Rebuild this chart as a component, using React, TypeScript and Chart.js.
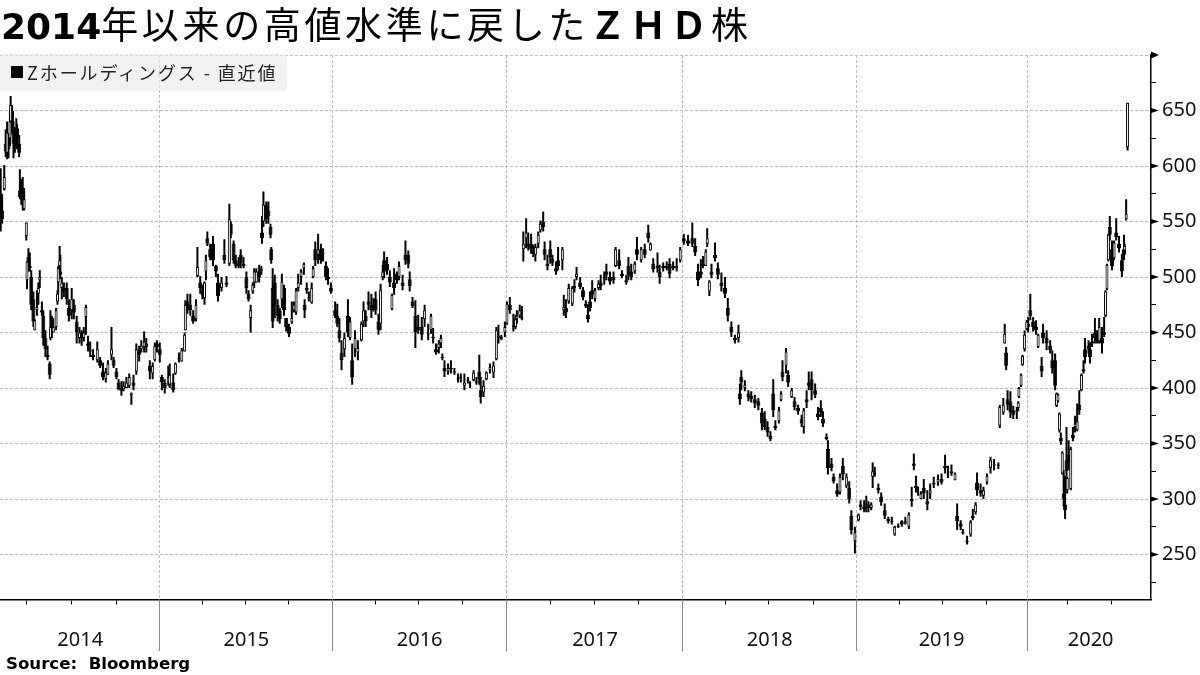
import React, { useEffect, useRef } from "react";
import { Chart, registerables } from "chart.js";

Chart.register(...registerables);

// each candle: [trading day since the axis start, open, high, low, close]
type Candle = [number, number, number, number, number];

const candles2014: Candle[] = [
  [1,572,598,541,552],[3,560,575,548,552],[6,579,601,578,590],[8,620,633,608,613],[10,612,640,606,630],[12,628,630,607,615],[14,625,650,618,640],[15,640,663,628,655],[17,650,655,630,634],[19,635,640,607,620],[21,625,635,612,618],[23,628,643,620,624],[24,634,638,615,625],[27,620,628,608,612],
  [28,578,597,570,572],[30,575,588,565,570],[32,575,590,560,565],[34,561,580,560,570],[37,537,549,533,549],[38,497,514,489,514],[40,518,526,505,510],[42,510,522,505,508],[44,500,506,470,475],[47,480,487,455,460],[49,452,462,452,461],[52,470,488,465,473],[54,485,495,475,490],[56,497,506,490,500],[59,470,478,465,468],[61,465,470,438,445],[64,445,452,428,435],[67,430,438,425,428],[70,422,424,408,412],
  [71,445,470,443,455],[73,455,465,445,450],[75,450,463,450,455],[79,455,472,452,470],[81,478,488,475,485],[82,495,510,485,508],[84,510,528,503,515],[85,505,520,498,502],[87,490,500,480,495],[90,490,495,482,487],[94,490,495,475,480],[97,472,480,460,465],[101,470,490,462,480],[104,475,480,462,468],[108,460,465,440,450],[112,445,455,440,450],[115,450,452,438,445],[118,445,455,442,450],[121,464,475,448,473],[124,440,447,433,438],[127,433,442,428,435],[131,430,435,425,428],[137,425,442,423,435],[141,425,428,418,420],[145,415,423,407,410],[149,408,418,405,414],[152,412,425,412,422],[157,430,455,425,435],[160,425,428,418,420],[164,415,418,408,410],[167,405,408,398,399],[171,400,406,393,397],[174,399,406,397,402],[178,400,410,400,405],[182,402,413,400,410],[185,394,396,385,395],[188,405,412,398,402],[192,415,440,412,435],[196,435,438,424,430],[199,435,443,432,438],[203,437,451,432,442],[206,440,445,432,437],[211,420,425,408,415],[215,413,423,408,420],[218,425,441,424,438],[221,440,443,432,437],
];

const candles2015: Candle[] = [
  [225,435,441,423,430],[228,410,412,398,405],[232,405,408,395,400],[237,405,420,402,410],[239,403,422,400,412],[244,405,413,396,398],[247,413,423,412,422],[252,425,432,423,427],[256,424,436,424,434],[260,433,450,433,448],[261,452,479,452,475],[264,478,485,467,470],[268,475,485,465,470],[272,465,470,458,460],[276,462,480,460,475],[278,501,527,500,509],[282,495,501,485,490],[285,488,493,480,484],[288,481,496,475,495],[290,505,520,497,515],[292,535,541,528,530],[296,525,530,515,518],[300,530,537,510,515],[304,510,511,500,505],[307,495,503,478,483],[312,490,500,487,495],[316,520,534,512,515],[319,495,501,491,493],[323,512,566,510,552],[325,548,550,535,538],[329,530,533,512,515],[332,515,520,508,510],[336,512,518,508,510],[339,520,525,508,512],[343,512,518,508,510],[347,500,505,485,490],[350,485,488,478,480],[353,463,475,450,470],[356,487,495,485,493],[358,495,508,490,505],[361,495,508,495,505],[365,505,511,495,500],[368,505,510,502,507],
  [369,540,555,530,535],[371,550,577,545,565],[375,565,568,548,552],[378,560,568,548,555],[381,545,548,535,538],[382,525,527,512,515],[384,490,508,454,460],[387,495,502,463,475],[391,475,480,460,465],[394,470,472,458,462],[397,480,503,472,496],[400,490,493,465,470],[403,463,463,451,455],[407,455,458,446,449],[411,459,478,458,463],[414,470,478,468,475],[417,468,490,466,488],[420,490,503,487,495],[424,500,507,493,505],[428,508,513,502,512],[429,475,480,463,470],[432,490,495,485,488],[435,480,487,478,482],[439,477,495,476,490],[441,500,510,499,508],[444,525,532,510,515],[448,520,539,512,525],[452,525,530,512,515],[455,520,526,514,522],[459,510,514,497,500],[462,500,508,493,498],[466,490,495,485,487],
];

const candles2016: Candle[] = [
  [472,470,478,463,465],[475,465,476,455,458],[478,452,463,441,445],[481,432,443,416,425],[485,435,450,428,445],[490,465,480,446,450],[493,445,464,443,460],[496,425,440,403,410],[500,435,452,428,445],[504,432,443,425,436],[509,443,460,442,458],[512,460,478,455,470],[515,465,470,455,460],[519,478,487,470,475],[523,475,485,463,470],[526,472,481,469,474],[529,480,487,466,470],[533,460,467,448,452],[536,458,494,452,488],[539,500,511,497,505],[541,515,523,499,505],[545,512,518,502,506],[549,500,506,491,495],[552,471,485,470,484],[555,495,508,484,490],[559,503,505,494,497],[562,500,514,497,510],[567,495,502,488,492],[571,520,533,511,515],[575,520,524,508,512],[577,498,505,487,492],[581,478,482,472,474],[585,465,479,436,450],[589,455,466,449,452],[594,455,464,443,448],[598,462,475,455,470],[603,448,458,443,450],[607,452,467,449,465],[610,446,454,440,445],[614,435,440,430,432],[618,436,443,431,440],[621,440,448,436,445],[623,428,431,425,427],[626,418,425,410,415],[631,415,422,412,418],[635,418,425,413,417],[640,415,418,412,414],[645,408,413,405,409],[649,408,413,405,410],[654,402,413,398,405],[659,406,410,404,408],[662,402,406,400,403],[667,407,416,406,414],[671,406,410,403,405],[675,415,430,403,408],[677,398,410,386,392],[681,396,407,392,402],[685,408,415,407,414],[690,416,422,413,419],[695,414,424,409,420],[699,426,455,425,452],[702,445,457,440,447],[706,444,448,443,446],[711,450,460,446,455],
];

const candles2017: Candle[] = [
  [714,458,478,457,476],[718,475,482,467,470],[723,455,467,451,456],[726,455,466,453,462],[728,462,470,458,465],[732,465,475,463,470],[735,462,474,461,464],
  [737,525,541,514,530],[741,535,553,526,540],[744,530,540,524,528],[748,530,539,521,525],[751,524,529,518,521],[754,520,530,514,527],[758,530,541,526,538],[761,542,551,540,548],[765,550,559,541,545],[767,525,532,515,520],[771,512,520,506,510],[775,525,533,512,518],[778,516,520,510,513],[783,508,514,502,505],[786,515,527,506,510],[792,515,527,506,525],
  [794,470,484,465,473],[797,472,480,463,468],[801,478,494,476,490],[806,476,492,474,490],[809,490,498,486,492],[812,500,509,497,503],[817,495,500,489,491],[821,488,491,479,482],[825,476,479,472,474],[828,466,475,459,462],[831,478,487,469,472],[834,488,497,480,484],[838,480,490,478,488],[843,490,497,488,494],[846,495,502,488,492],[851,498,505,493,500],[854,505,512,497,502],[859,500,505,493,496],[864,500,505,494,497],[867,510,527,509,525],[872,515,525,507,510],[876,503,506,499,501],[882,497,502,493,495],[885,510,518,497,502],[889,505,512,497,500],[894,505,514,503,512],[897,525,536,515,520],[903,515,527,513,525],[908,525,530,517,520],[913,540,547,531,535],[916,524,531,524,530],[920,512,517,504,507],[926,510,522,504,508],[929,505,511,494,500],[934,510,513,505,508],[939,510,514,506,508],[943,512,517,499,503],[948,510,514,506,508],[953,508,517,505,510],[958,515,527,513,525],
];

const candles2018: Candle[] = [
  [963,535,539,529,532],[969,533,538,528,530],[975,535,549,527,530],[979,528,535,519,522],[983,505,512,492,497],[987,505,516,499,502],[990,512,519,508,510],[994,510,525,510,523],[996,530,544,527,535],[999,487,497,483,496],[1002,505,512,499,502],[1007,520,531,514,517],[1011,508,513,498,502],[1016,495,504,487,492],[1021,490,500,481,485],[1025,472,481,460,465],[1030,455,460,446,450],[1035,445,448,440,443],[1040,445,457,441,450],
  [1042,395,404,385,390],[1044,410,416,398,405],[1049,400,407,397,403],[1054,395,398,388,392],[1058,393,397,387,390],[1063,390,394,382,386],[1068,388,391,380,384],[1073,378,382,362,368],[1077,372,379,362,365],[1081,365,370,356,360],[1085,357,361,352,354],[1089,395,408,374,380],[1092,366,371,362,364],[1097,370,383,368,380],[1100,389,397,388,395],[1102,415,425,406,410],[1107,420,436,413,433],[1110,412,416,401,405],[1115,392,400,391,398],[1119,388,392,380,383],[1124,382,385,376,379],[1129,372,376,365,368],[1132,365,382,359,380],[1136,390,398,382,387],[1139,405,415,398,402],[1143,408,415,389,398],[1148,398,404,391,394],[1152,377,383,371,374],[1156,382,389,374,378],[1159,372,379,365,368],[1164,356,359,353,354],[1166,345,353,322,328],[1171,332,337,325,328],[1174,320,323,314,316],[1179,308,314,302,304],[1183,306,323,304,320],[1187,330,337,317,322],[1192,312,323,310,320],[1196,310,316,296,300],[1199,285,290,268,272],[1204,262,275,251,270],
];

const candles2019: Candle[] = [
  [1209,281,287,280,286],[1212,295,299,290,293],[1217,293,299,288,291],[1220,295,303,288,296],[1223,295,298,288,292],[1227,292,297,290,295],[1229,320,333,310,325],[1232,322,329,320,324],[1237,310,314,305,308],[1241,302,306,294,297],[1246,290,296,282,285],[1251,282,284,278,280],[1256,280,284,277,279],[1260,268,276,267,275],[1265,276,278,274,275],[1270,280,281,275,277],[1275,278,284,277,280],[1280,275,288,273,286],[1284,300,311,293,298],[1287,332,341,326,330],[1290,312,321,306,310],[1293,305,311,303,306],[1297,300,307,300,305],[1301,310,318,300,305],[1306,298,308,290,295],[1310,305,314,300,308],[1315,315,320,310,313],[1321,315,322,312,318],[1326,318,323,313,315],[1331,330,340,323,328],[1335,322,330,319,323],[1340,325,331,321,323],[1345,317,324,317,323],
  [1348,285,296,272,280],[1353,278,281,272,275],[1356,270,273,268,269],[1362,262,267,259,261],[1367,268,281,266,279],[1370,285,291,281,283],[1374,288,297,286,295],[1376,315,324,303,308],[1381,308,314,302,305],[1385,303,311,300,308],[1390,315,323,313,321],[1395,328,338,323,335],[1400,330,336,326,332],[1406,330,333,327,331],
  [1408,366,385,364,383],[1413,378,391,376,385],[1415,440,458,440,449],[1417,432,437,416,420],[1419,390,398,380,385],[1423,388,397,373,378],[1427,380,384,372,376],[1432,378,383,372,380],[1434,382,388,379,387],[1435,392,401,391,400],[1438,402,413,401,412],[1440,421,430,420,429],[1443,435,452,433,448],
];

const candles2020: Candle[] = [
  [1446,453,461,452,460],[1448,458,464,450,455],[1451,470,485,461,465],[1455,460,464,451,455],[1459,455,461,448,452],[1462,437,449,436,448],[1467,420,428,410,415],[1469,450,458,440,445],[1474,445,452,434,440],[1479,438,443,431,434],[1482,425,434,413,418],[1486,425,431,398,402],[1488,384,396,383,395],[1490,388,395,387,394],[1492,362,378,360,377],[1494,355,360,349,352],[1496,323,343,322,342],[1498,305,326,293,300],[1500,295,321,282,290],[1502,335,365,320,325],[1503,308,320,305,319],[1505,340,353,326,332],[1508,309,347,308,345],[1511,358,365,352,355],[1514,365,375,360,368],[1517,362,386,361,370],[1520,385,398,376,380],[1523,398,413,397,412],[1526,417,425,413,415],[1528,435,445,422,428],[1533,438,443,431,435],[1535,435,441,422,428],[1538,442,449,437,440],[1542,450,463,440,445],[1545,445,452,440,443],[1548,442,463,440,455],[1552,445,455,431,440],[1555,450,464,446,448],[1557,465,488,464,487],[1559,489,512,488,511],[1561,515,539,514,538],[1563,545,555,533,538],[1566,525,533,506,510],[1569,517,533,515,531],[1572,540,553,533,536],[1576,530,537,522,526],[1580,515,521,500,505],[1583,525,538,515,520],[1584,524,530,522,528],[1586,552,570,551,557],[1588,617,657,614,657],
];

const yearStartDays = [224, 468, 713, 961, 1206, 1447];
const quarterDays = [38, 100, 164, 285, 346, 407, 529, 590, 652, 775, 837, 899, 1022, 1083, 1145, 1267, 1328, 1389, 1504, 1565];
const yearLabels = ["2014", "2015", "2016", "2017", "2018", "2019", "2020"];
const yearLabelDays = [113, 347, 591, 838, 1084, 1326, 1536];
const priceTicks = [225, 250, 275, 300, 325, 350, 375, 400, 425, 450, 475, 500, 525, 550, 575, 600, 625, 650, 675, 700];
const DAY_MIN = 0;
const DAY_MAX = 1621;
const PRICE_MIN = 209.5;
const PRICE_MAX = 700;

const GRID = "#bdbdbd";
const FONT = "'DejaVu Sans'";
const TICK_FONT = "'Noto Sans'";

const yearMarksPlugin = {
  id: "yearMarks",
  afterDraw(chart: any) {
    const { ctx, scales, chartArea } = chart;
    ctx.save();
    ctx.strokeStyle = "#8a8a8a";
    ctx.lineWidth = 1;
    for (const d of yearStartDays) {
      const x = Math.round(scales.x.getPixelForValue(d)) + 0.5;
      ctx.beginPath();
      ctx.moveTo(x, chartArea.bottom);
      ctx.lineTo(x, 651);
      ctx.stroke();
    }
    ctx.fillStyle = "#000";
    for (const v of priceTicks) {
      if (v % 50 !== 0) continue;
      const y = scales.y.getPixelForValue(v);
      const big = v === 700 ? 3.5 : 2.5;
      ctx.beginPath();
      ctx.moveTo(chartArea.right, y - big);
      ctx.lineTo(chartArea.right + 8, y);
      ctx.lineTo(chartArea.right, y + big);
      ctx.closePath();
      ctx.fill();
    }
    ctx.restore();
  },
};

export default function App() {
  const ref = useRef<HTMLCanvasElement>(null);
  useEffect(() => {
    if (!ref.current) return;
    const candles = [...candles2014, ...candles2015, ...candles2016, ...candles2017, ...candles2018, ...candles2019, ...candles2020];
    const rising = candles.filter((c) => c[4] > c[1]);
    const falling = candles.filter((c) => c[4] <= c[1]);
    const isYear = (v: number) => yearStartDays.includes(v);
    const isLabel = (v: number) => yearLabelDays.includes(v);
    const chart = new Chart(ref.current, {
      type: "bar",
      data: {
        datasets: [
          {
            label: "wick",
            data: candles.map((c) => ({ x: c[0], y: [c[3], c[2]] })) as any,
            backgroundColor: "#000",
            barThickness: 2,
            borderWidth: 0,
            grouped: false,
            order: 3,
            inflateAmount: 0,
          } as any,
          {
            label: "down",
            data: falling.map((c) => ({ x: c[0], y: [c[1], c[4]] })) as any,
            backgroundColor: "#000",
            borderColor: "#000",
            borderWidth: 1,
            borderSkipped: false,
            barThickness: 4,
            grouped: false,
            order: 2,
            inflateAmount: 0,
          } as any,
          {
            label: "up",
            data: rising.map((c) => ({ x: c[0], y: [c[1], c[4]] })) as any,
            backgroundColor: "#fff",
            borderColor: "#000",
            borderWidth: 1,
            borderSkipped: false,
            barThickness: 3,
            grouped: false,
            order: 1,
            inflateAmount: 0,
          } as any,
        ],
      },
      options: {
        responsive: false,
        animation: false,
        devicePixelRatio: 1,
        layout: { padding: { top: 55, left: 0, right: 0, bottom: 0 } },
        plugins: { legend: { display: false }, title: { display: false }, tooltip: { enabled: false } },
        scales: {
          x: {
            type: "linear",
            min: DAY_MIN,
            max: DAY_MAX,
            offset: false,
            afterFit: (s: any) => { s.height = 75.5; },
            afterBuildTicks: (s: any) => {
              s.ticks = [...quarterDays, ...yearStartDays, ...yearLabelDays].sort((a, b) => a - b).map((value) => ({ value }));
            },
            grid: {
              offset: false,
              color: (c: any) => (isYear(c.tick?.value) ? GRID : "transparent"),
              tickColor: (c: any) => (isLabel(c.tick?.value) ? "transparent" : "#000"),
              tickLength: 5,
              tickWidth: 1,
              lineWidth: 1,
            },
            border: { display: true, color: "#000", width: 1.5, dash: [3, 2] },
            ticks: {
              autoSkip: false,
              maxRotation: 0,
              minRotation: 0,
              padding: 24,
              color: "#111",
              font: { family: TICK_FONT, size: 20 },
              callback: (v: any) => {
                const i = yearLabelDays.indexOf(Number(v));
                return i >= 0 ? yearLabels[i] : "";
              },
            },
          } as any,
          y: {
            type: "linear",
            position: "right",
            min: PRICE_MIN,
            max: PRICE_MAX,
            afterFit: (s: any) => { s.width = 49; },
            afterBuildTicks: (s: any) => {
              s.ticks = priceTicks.map((value) => ({ value }));
            },
            grid: {
              color: (c: any) => (c.tick?.value % 50 === 0 ? GRID : "transparent"),
              tickColor: "#000",
              tickLength: 5,
              tickWidth: 1,
              lineWidth: 1,
            },
            border: { display: true, color: "#000", width: 1.5, dash: [3, 2] },
            ticks: {
              autoSkip: false,
              padding: 6,
              color: "#111",
              font: { family: TICK_FONT, size: 20 },
              callback: (v: any) => (Number(v) % 50 === 0 && Number(v) !== 700 ? String(v) : ""),
            },
          } as any,
        },
      },
      plugins: [yearMarksPlugin],
    } as any);
    return () => chart.destroy();
  }, []);

  const cjk = "'Noto Sans CJK JP'";
  return (
    <div style={{ position: "fixed", left: 0, top: 0, width: 1200, height: 675, background: "#fff", overflow: "hidden" }}>
      <canvas ref={ref} width={1200} height={675} style={{ display: "block", width: 1200, height: 675 }} />
      <div style={{ position: "absolute", left: 1, top: 0, height: 46, lineHeight: "46px", whiteSpace: "nowrap", color: "#000", fontFamily: cjk, fontSize: 37, letterSpacing: 3.65 }}>
        <span style={{ fontFamily: FONT, fontWeight: 700, fontSize: 36, letterSpacing: 0 }}>2014</span>
        年以来の高値水準に戻した
        <span style={{ fontWeight: 700 }}>ＺＨＤ</span>
        株
      </div>
      <div style={{ position: "absolute", left: 0, top: 54, width: 287, height: 37, borderRadius: 4, background: "rgba(232,232,232,0.62)" }}>
        <div style={{ position: "absolute", left: 11, top: 12, width: 12, height: 12, background: "#000" }} />
        <div style={{ position: "absolute", left: 27, top: 0, lineHeight: "37px", whiteSpace: "nowrap", color: "#222", fontFamily: cjk, fontSize: 18, letterSpacing: 1.9 }}>
          Zホールディングス - 直近値
        </div>
      </div>
      <div style={{ position: "absolute", left: 6, top: 654, lineHeight: "20px", whiteSpace: "pre", color: "#000", fontFamily: FONT, fontWeight: 700, fontSize: 16.6 }}>
        Source:  Bloomberg
      </div>
    </div>
  );
}
